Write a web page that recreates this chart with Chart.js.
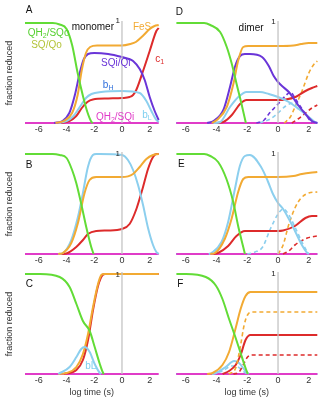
<!DOCTYPE html>
<html>
<head>
<meta charset="utf-8">
<script src="https://cdn.jsdelivr.net/npm/chart.js@4.4.1/dist/chart.umd.min.js"></script>
<style>
  html, body { margin: 0; padding: 0; background: #fff; }
  #fig { position: relative; width: 319px; height: 399px; overflow: hidden; }
  #fig canvas { position: absolute; }
</style>
</head>
<body>
<div id="fig"></div>
<script>
const FONT = '"Liberation Sans", Arial, Helvetica, sans-serif';
const xTicks = [-6, -4, -2, 0, 2];

// colours
const C_QO = '#62dc36', C_FES = '#f2aa33', C_SQI = '#6a35d8', C_BH = '#8ccfee',
      C_C1 = '#dd2b2b', C_QI = '#e03cc8', C_BL = '#4b55e2', C_AXIS = '#c4c4c4';

// ---- data: [log time, fraction reduced] ----
// monomer, A
const aQo  = [[-7,1],[-5,1],[-4.5,0.985],[-4,0.94],[-3.6,0.78],[-3.2,0.5],[-2.8,0.26],[-2.5,0.11],[-2.2,0.01],[-2.1,0]];
const aFeS = [[-4.8,0],[-4.2,0.02],[-3.6,0.1],[-3.2,0.28],[-2.9,0.53],[-2.6,0.7],[-2.3,0.76],[-1.8,0.775],[0,0.775],[0.6,0.79],[1.0,0.81],[1.5,0.87],[2.0,0.94],[2.35,0.97],[2.65,0.98]];
const aSQi = [[-4.9,0],[-4.3,0.02],[-3.8,0.1],[-3.4,0.28],[-3.05,0.5],[-2.75,0.64],[-2.45,0.69],[-2,0.7],[-1,0.69],[0,0.66],[0.5,0.64],[0.8,0.62],[1.28,0.54],[1.64,0.43],[2,0.26],[2.36,0.12],[2.65,0.03]];
const aBH  = [[-4.6,0],[-4,0.02],[-3.5,0.07],[-3,0.17],[-2.6,0.25],[-2.2,0.29],[-1.5,0.31],[0,0.32],[1.28,0.3],[1.76,0.22],[2.12,0.12],[2.48,0.03],[2.65,0.01]];
const aC1  = [[-4.4,0],[-3.8,0.02],[-3.3,0.07],[-2.9,0.15],[-2.5,0.21],[-2.1,0.235],[-1,0.245],[0,0.25],[0.55,0.26],[0.8,0.28],[1.03,0.33],[1.52,0.52],[2,0.72],[2.48,0.92],[2.65,0.95]];
// monomer, B
const bQo  = [[-7,1],[-5,1],[-4.5,0.99],[-4,0.96],[-3.6,0.84],[-3.3,0.71],[-2.94,0.5],[-2.58,0.27],[-2.22,0.07],[-2.05,0]];
const bBH  = [[-4.6,0],[-4.27,0.01],[-3.66,0.14],[-3.18,0.37],[-2.82,0.61],[-2.46,0.87],[-2.1,0.99],[-1.86,1],[-1.6,1],[0,0.99],[0.43,0.94],[0.8,0.84],[1.16,0.69],[1.52,0.49],[1.88,0.26],[2.24,0.09],[2.48,0.02],[2.65,0]];
const bFeS = [[-4.6,0],[-4.27,0.01],[-3.66,0.11],[-3.18,0.31],[-2.7,0.61],[-2.34,0.74],[-1.86,0.77],[0,0.77],[0.8,0.8],[1.28,0.87],[1.76,0.95],[2.24,0.99],[2.65,1]];
const bC1  = [[-4.4,0],[-4.02,0.005],[-3.3,0.07],[-2.82,0.14],[-2.46,0.2],[-1.86,0.23],[-1,0.235],[0,0.25],[0.55,0.3],[1.04,0.45],[1.52,0.67],[1.88,0.85],[2.24,0.97],[2.48,1],[2.65,1]];
// monomer, C
const cQo  = [[-7,1],[-5.9,1],[-4.5,0.97],[-3.78,0.87],[-3.29,0.7],[-2.82,0.53],[-2.33,0.43],[-1.97,0.27],[-1.6,0.1],[-1.36,0.01],[-1.3,0]];
const cFeS = [[-4.6,0],[-4,0.01],[-3.29,0.07],[-2.82,0.2],[-2.45,0.4],[-2.09,0.67],[-1.73,0.9],[-1.49,0.99],[-1.3,1],[2.65,1]];
const cC1  = [[-4.2,0],[-3.29,0.04],[-2.82,0.14],[-2.45,0.34],[-2.09,0.64],[-1.73,0.88],[-1.4,0.99],[-1.2,1],[2.65,1]];
const cBL  = [[-4.6,0],[-3.78,0.07],[-3.29,0.17],[-2.94,0.25],[-2.7,0.27],[-2.33,0.22],[-1.97,0.1],[-1.6,0.01],[-1.5,0]];
// dimer, D (second monomer dashed)
const dQo  = [[-6.6,1],[-4.8,1],[-4.4,0.98],[-3.76,0.91],[-3.33,0.76],[-3.0,0.59],[-2.69,0.39],[-2.37,0.19],[-2.09,0]];
const dFeS = [[-4.3,0],[-3.98,0.03],[-3.33,0.16],[-2.9,0.39],[-2.58,0.63],[-2.26,0.76],[-1.94,0.77],[0,0.77],[1.0,0.775],[1.5,0.79],[2,0.8],[2.55,0.8]];
const dSQi = [[-4.6,0],[-4.19,0.02],[-3.55,0.13],[-3.12,0.36],[-2.8,0.56],[-2.47,0.67],[-2.15,0.69],[-1.83,0.69],[-1.04,0.66],[-0.6,0.57],[-0.28,0.47],[0,0.41],[0.26,0.37],[0.7,0.31],[0.9,0.27],[1.35,0.17],[1.78,0.09],[2.2,0.02],[2.55,0]];
const dBH  = [[-4.2,0],[-3.76,0.01],[-3.12,0.16],[-2.58,0.26],[-2.04,0.31],[-1.18,0.31],[-0.6,0.29],[0,0.26],[0.7,0.21],[1.35,0.14],[2,0.06],[2.4,0.01],[2.55,0]];
const dC1  = [[-4.0,0],[-3.55,0.01],[-3.0,0.08],[-2.47,0.19],[-2.04,0.23],[0,0.23],[0.5,0.235],[1.13,0.26],[1.78,0.32],[2.2,0.35],[2.55,0.37]];
const dSQi2 = [[-1.4,0],[-0.9,0.03],[-0.6,0.09],[0,0.19],[0.48,0.27],[0.8,0.31],[1.13,0.24],[1.56,0.14],[2,0.04],[2.2,0]];
const dBH2  = [[-1.2,0],[-0.5,0.04],[0,0.1],[0.5,0.17],[1.0,0.2],[1.4,0.16],[1.9,0.07],[2.3,0]];
const dFeS2 = [[0.4,0],[0.8,0.06],[1.13,0.17],[1.56,0.32],[2,0.5],[2.3,0.58],[2.55,0.62]];
const dC12  = [[0.9,0],[1.3,0.04],[1.8,0.1],[2.2,0.15],[2.55,0.18]];
// dimer, E
const eQo  = [[-6.6,1],[-4.8,1],[-4.4,0.98],[-3.89,0.92],[-3.35,0.75],[-2.91,0.52],[-2.59,0.28],[-2.26,0.07],[-2.15,0]];
const eBH  = [[-4.5,0],[-4.33,0.01],[-3.67,0.12],[-3.24,0.32],[-2.8,0.65],[-2.48,0.88],[-2.15,0.98],[-1.83,0.99],[-1.1,0.87],[-0.67,0.73],[-0.33,0.6],[0,0.51],[0.33,0.45],[0.67,0.36],[1.1,0.23],[1.55,0.09],[1.9,0.01],[2,0]];
const eFeS = [[-4.4,0],[-4.1,0.01],[-3.46,0.15],[-3.02,0.35],[-2.59,0.62],[-2.26,0.75],[-1.93,0.77],[0,0.77],[1,0.78],[1.55,0.8],[2.55,0.82]];
const eC1  = [[-4.2,0],[-3.9,0.01],[-3.24,0.08],[-2.7,0.18],[-2.15,0.23],[0,0.23],[0.33,0.235],[1.1,0.28],[1.78,0.36],[2.2,0.38],[2.55,0.38]];
const eBH2  = [[-2,0],[-1.5,0.02],[-1,0.07],[-0.5,0.25],[0,0.4],[0.35,0.45],[0.67,0.4],[1.1,0.27],[1.55,0.12],[1.9,0.02],[2,0]];
const eFeS2 = [[0,0],[0.33,0.09],[0.67,0.28],[1.1,0.46],[1.5,0.56],[2,0.61],[2.55,0.62]];
const eC12  = [[0.33,0],[0.7,0.03],[1.1,0.09],[1.9,0.16],[2.55,0.18]];
// dimer, F
const fQo  = [[-6.6,1],[-5.98,1],[-4.69,0.97],[-4.04,0.885],[-3.61,0.75],[-3.18,0.55],[-2.75,0.36],[-2.43,0.21],[-2.11,0.06],[-1.96,0]];
const fFeS = [[-4.6,0],[-4.25,0.01],[-3.61,0.09],[-3.18,0.22],[-2.75,0.46],[-2.43,0.65],[-2.11,0.78],[-1.79,0.82],[2.55,0.82]];
const fC1  = [[-3.6,0],[-3.18,0.03],[-2.75,0.09],[-2.43,0.19],[-2.11,0.34],[-1.79,0.39],[2.55,0.39]];
const fBH  = [[-4.3,0],[-4.04,0.01],[-3.4,0.07],[-2.85,0.13],[-2.53,0.11],[-2.11,0.03],[-1.9,0]];
const fFeS2 = [[-3.2,0],[-2.75,0.06],[-2.43,0.29],[-2.2,0.49],[-1.98,0.59],[-1.66,0.62],[2.55,0.62]];
const fC12  = [[-2.9,0],[-2.53,0.02],[-2.2,0.11],[-1.98,0.17],[-1.66,0.19],[2.55,0.19]];
const fBH2  = [[-4.3,0],[-3.6,0.03],[-3.0,0.08],[-2.6,0.07],[-2.2,0.02],[-2,0]];
// QH2/SQi and bL stay at zero; gray marker at log t = 0
const qiLeft  = [[-7,0],[2.65,0]];
const qiRight = [[-6.6,0],[2.55,0]];
const zeroMark = [[0,0],[0,1.02]];

const ROWS = [
  { top: 0,   h: 137, padTop: 23, axisH: 14, title: false },
  { top: 137, h: 131, padTop: 17, axisH: 14, title: false },
  { top: 268, h: 131, padTop: 6,  axisH: 25, title: true }
];
const COLS = [
  { left: 0,   w: 175, min: -7,   max: 2.65, padL: 0,   padR: 16.3, yTitle: true, qi: qiLeft },
  { left: 170, w: 149, min: -6.6, max: 2.55, padL: 6.4, padR: 1.7, yTitle: false, qi: qiRight }
];

function line(points, color, dashed) {
  return {
    data: points.map(([x, y]) => ({ x, y })),
    borderColor: color,
    borderWidth: dashed ? 1.6 : 2,
    borderDash: dashed ? [4, 3] : [],
    pointRadius: 0,
    cubicInterpolationMode: 'monotone',
    fill: false,
    clip: false
  };
}

const PANELS = [
  { row: 0, col: 0, sets: [[aQo, C_QO], [aFeS, C_FES], [aSQi, C_SQI], [aBH, C_BH], [aC1, C_C1]],
    labels: [
      { t: 'A', x: -6.95, y: 1.13, c: '#111', a: 'left' },
      { t: 'QH_2/SQo', x: -6.8, y: 0.9, c: '#55d030', a: 'left' },
      { t: 'SQ/Qo', x: -5.45, y: 0.78, c: '#b4c43a' },
      { t: 'monomer', x: -2.1, y: 0.96, c: '#111' },
      { t: '1', x: -0.15, y: 1.02, c: '#222', a: 'right', s: 8 },
      { t: 'FeS', x: 1.45, y: 0.96, c: C_FES },
      { t: 'c_1', x: 2.4, y: 0.64, c: C_C1, a: 'left' },
      { t: 'SQi/Qi', x: -0.45, y: 0.6, c: C_SQI },
      { t: 'b_H', x: -1.0, y: 0.38, c: '#2f6fdc' },
      { t: 'QH_2/SQi', x: -0.5, y: 0.06, c: C_QI },
      { t: 'b_L', x: 1.8, y: 0.08, c: '#7fd0f0' }
    ] },
  { row: 1, col: 0, sets: [[bQo, C_QO], [bFeS, C_FES], [bBH, C_BH], [bC1, C_C1]],
    labels: [
      { t: 'B', x: -6.95, y: 0.885, c: '#111', a: 'left' },
      { t: '1', x: -0.15, y: 1.0, c: '#222', a: 'right', s: 8 }
    ] },
  { row: 2, col: 0, sets: [[cQo, C_QO], [cBL, C_BH], [cFeS, C_FES], [cC1, C_C1]],
    labels: [
      { t: 'C', x: -6.95, y: 0.9, c: '#111', a: 'left' },
      { t: '1', x: -0.15, y: 0.99, c: '#222', a: 'right', s: 8 },
      { t: 'bL', x: -2.25, y: 0.08, c: '#7fd0f0' }
    ] },
  { row: 0, col: 1, sets: [[dQo, C_QO], [dFeS, C_FES], [dSQi, C_SQI], [dBH, C_BH], [dC1, C_C1],
      [dSQi2, C_SQI, true], [dBH2, C_BH, true], [dFeS2, C_FES, true], [dC12, C_C1, true]],
    labels: [
      { t: 'D', x: -6.65, y: 1.11, c: '#111', a: 'left' },
      { t: 'dimer', x: -1.75, y: 0.95, c: '#111' },
      { t: '1', x: -0.15, y: 1.01, c: '#222', a: 'right', s: 8 }
    ] },
  { row: 1, col: 1, sets: [[eQo, C_QO], [eFeS, C_FES], [eBH, C_BH], [eC1, C_C1],
      [eBH2, C_BH, true], [eFeS2, C_FES, true], [eC12, C_C1, true]],
    labels: [
      { t: 'E', x: -6.5, y: 0.9, c: '#111', a: 'left' },
      { t: '1', x: -0.15, y: 1.0, c: '#222', a: 'right', s: 8 }
    ] },
  { row: 2, col: 1, sets: [[fQo, C_QO], [fFeS, C_FES], [fFeS2, C_FES, true], [fC1, C_C1], [fC12, C_C1, true],
      [fBH, C_BH], [fBH2, C_BH, true]],
    labels: [
      { t: 'F', x: -6.55, y: 0.9, c: '#111', a: 'left' },
      { t: '1', x: -0.15, y: 1.0, c: '#222', a: 'right', s: 8 }
    ] }
];

// text with "_x" meaning subscript x
const panelText = {
  id: 'panelText',
  afterDatasetsDraw(chart, args, opts) {
    const { ctx, scales: { x, y } } = chart;
    ctx.save();
    ctx.textBaseline = 'middle';
    (opts.items || []).forEach(it => {
      const size = it.s || 10;
      const segs = it.t.split(/(_.)/).filter(Boolean)
        .map(p => p[0] === '_' ? { t: p.slice(1), sub: true } : { t: p, sub: false });
      let w = 0;
      segs.forEach(sg => {
        ctx.font = `${sg.sub ? Math.round(size * 0.72) : size}px ${FONT}`;
        sg.w = ctx.measureText(sg.t).width;
        w += sg.w;
      });
      let px = x.getPixelForValue(it.x);
      const a = it.a || 'center';
      if (a === 'center') px -= w / 2;
      else if (a === 'right') px -= w;
      const py = y.getPixelForValue(it.y);
      ctx.fillStyle = it.c;
      segs.forEach(sg => {
        ctx.font = `${sg.sub ? Math.round(size * 0.72) : size}px ${FONT}`;
        ctx.fillText(sg.t, px, sg.sub ? py + size * 0.3 : py);
        px += sg.w;
      });
    });
    ctx.restore();
  }
};

const fig = document.getElementById('fig');
PANELS.forEach(p => {
  const row = ROWS[p.row], col = COLS[p.col];
  const cv = document.createElement('canvas');
  cv.width = col.w; cv.height = row.h;
  cv.style.left = col.left + 'px'; cv.style.top = row.top + 'px';
  cv.style.width = col.w + 'px'; cv.style.height = row.h + 'px';
  fig.appendChild(cv);

  const datasets = [Object.assign(line(zeroMark, C_AXIS), { borderWidth: 1.3, cubicInterpolationMode: 'default' })];
  p.sets.forEach(([pts, color, dashed]) => datasets.push(line(pts, color, dashed)));
  datasets.push(line(col.qi, C_QI));
  datasets.push(Object.assign(line(col.qi, C_BL), { borderDash: [7, 7] }));

  new Chart(cv, {
    type: 'line',
    data: { datasets },
    plugins: [panelText],
    options: {
      responsive: false,
      animation: false,
      devicePixelRatio: 1,
      layout: { padding: { top: row.padTop, left: col.padL, right: col.padR, bottom: 0 } },
      plugins: {
        legend: { display: false },
        tooltip: { enabled: false },
        panelText: { items: p.labels }
      },
      scales: {
        x: {
          type: 'linear', min: col.min, max: col.max,
          grid: { display: false, drawTicks: false },
          border: { display: false },
          ticks: { font: { size: 9, family: FONT }, color: '#333', padding: 1, maxRotation: 0, autoSkip: false },
          afterBuildTicks: s => { s.ticks = xTicks.map(v => ({ value: v })); },
          afterFit: s => { s.height = row.axisH; },
          title: {
            display: row.title, text: 'log time (s)', color: '#333',
            font: { size: 9, family: FONT }, padding: { top: 0, bottom: 1 }
          }
        },
        y: col.yTitle ? {
          min: 0, max: 1,
          grid: { display: false, drawTicks: false },
          border: { display: false },
          ticks: { display: false },
          title: { display: true, text: 'fraction reduced', color: '#333', font: { size: 9, family: FONT }, padding: { top: 4, bottom: 0 } },
          afterFit: s => { s.width = 25; }
        } : { min: 0, max: 1, display: false }
      }
    }
  });
});
</script>
</body>
</html>
